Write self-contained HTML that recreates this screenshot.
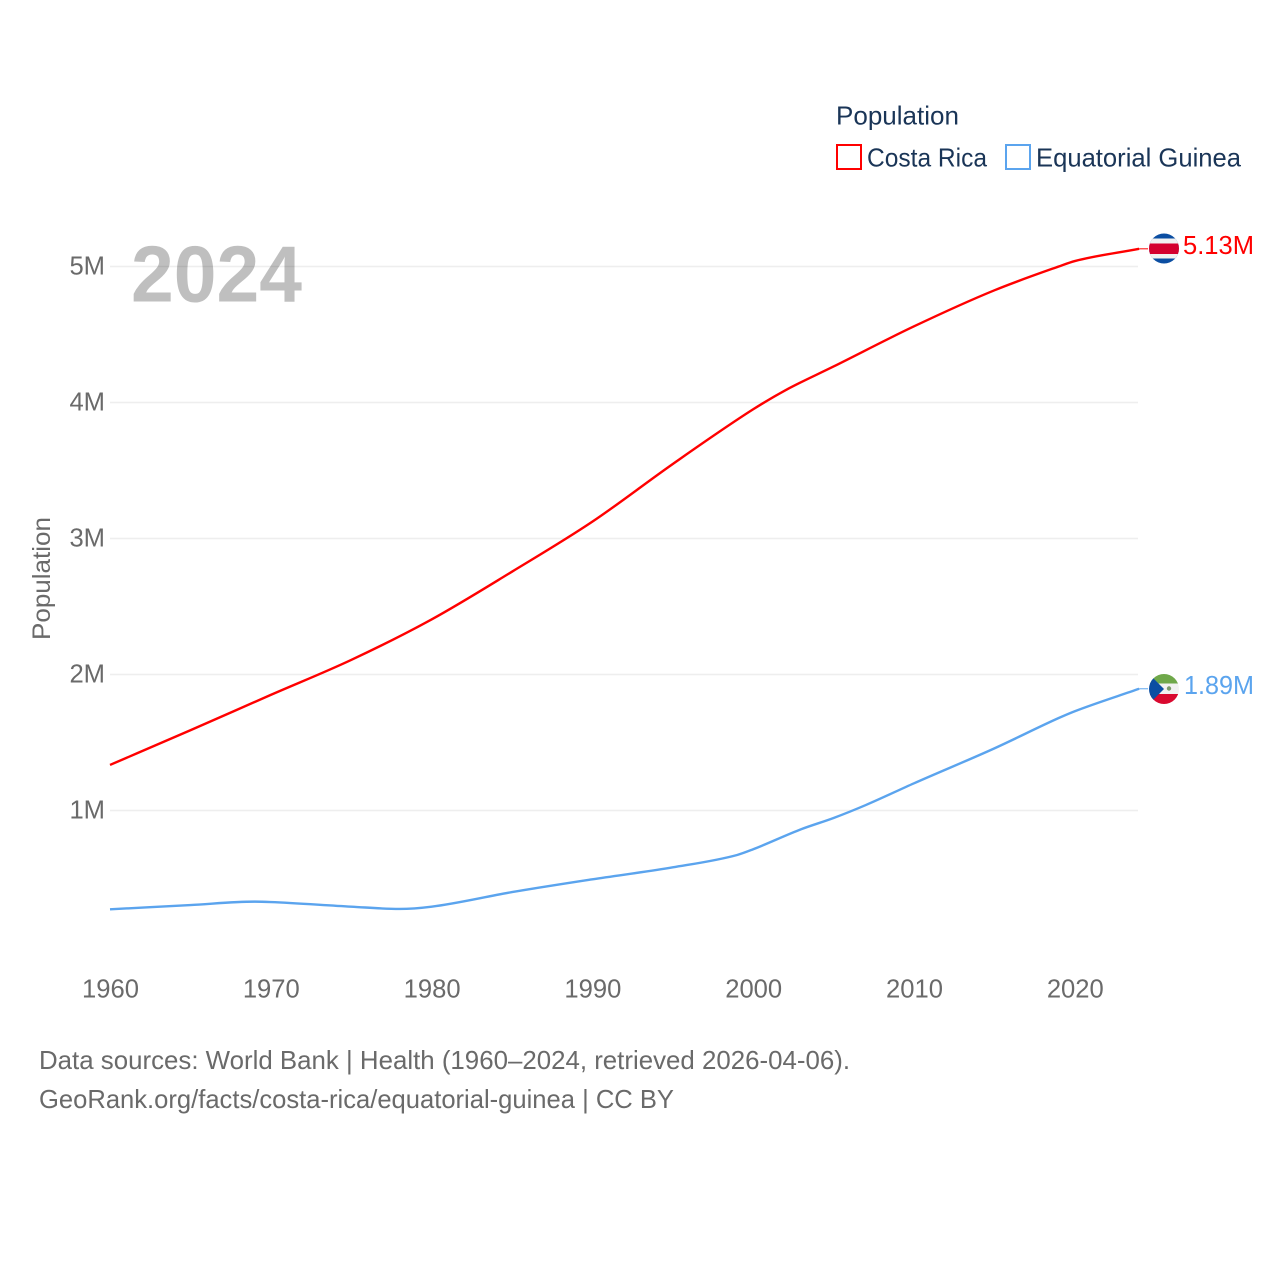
<!DOCTYPE html>
<html lang="en">
<head>
<meta charset="utf-8">
<title>Population: Costa Rica and Equatorial Guinea</title>
<style>
html,body{margin:0;padding:0;background:#fff;}
svg{display:block;font-family:"Liberation Sans",sans-serif;}
</style>
</head>
<body>
<svg id="chart" xmlns="http://www.w3.org/2000/svg" width="1280" height="1280" viewBox="0 0 1280 1280">
  <defs>
    <clipPath id="flag-clip-cr"><circle cx="1164" cy="248.5" r="15"/></clipPath>
    <clipPath id="flag-clip-gq"><circle cx="1164" cy="689" r="15"/></clipPath>
  </defs>
  <rect width="1280" height="1280" fill="#fff"/>
  <g id="grid"></g>
  <g id="yticks"></g>
  <g id="xticks"></g>
  <text transform="translate(50,640) rotate(-90)" font-size="25" fill="#6a6a6a" textLength="123" lengthAdjust="spacingAndGlyphs">Population</text>

  <g id="series"></g>

  <text x="131" y="301.5" font-size="80" font-weight="700" fill="#000" fill-opacity="0.25" textLength="171" lengthAdjust="spacingAndGlyphs">2024</text>

  <g>
    <text x="836" y="124.5" font-size="26" fill="#1a3557" textLength="123" lengthAdjust="spacingAndGlyphs">Population</text>
    <g>
      <rect x="837" y="145" width="24" height="24" fill="#fff" stroke="#ff0000" stroke-width="2"/>
      <text x="867" y="166.5" font-size="26" fill="#1a3557" textLength="120" lengthAdjust="spacingAndGlyphs">Costa Rica</text>
    </g>
    <g>
      <rect x="1006" y="145" width="24" height="24" fill="#fff" stroke="#5ba4ee" stroke-width="2"/>
      <text x="1036" y="166.5" font-size="26" fill="#1a3557" textLength="205" lengthAdjust="spacingAndGlyphs">Equatorial Guinea</text>
    </g>
  </g>

  <g clip-path="url(#flag-clip-cr)">
    <rect x="1148" y="233" width="32" height="31" fill="#0b4ea2"/>
    <rect x="1148" y="238.5" width="32" height="20" fill="#f1f1f1"/>
    <rect x="1148" y="243.5" width="32" height="10.5" fill="#d4002f"/>
  </g>
  <g clip-path="url(#flag-clip-gq)">
    <rect x="1148" y="673" width="32" height="11" fill="#6fa84a"/>
    <rect x="1148" y="683.5" width="32" height="11" fill="#f1f1f1"/>
    <rect x="1148" y="694" width="32" height="11" fill="#d9092f"/>
    <polygon points="1148,673 1164,689 1148,705" fill="#0b4ea2"/>
    <circle cx="1169" cy="688.5" r="2.2" fill="#7a9a6a"/>
  </g>

  <text id="value-cr" x="1183" y="254" font-size="25.6" fill="#ff0000" textLength="71" lengthAdjust="spacingAndGlyphs"></text>
  <text id="value-gq" x="1184" y="694" font-size="25.6" fill="#5ba4ee" textLength="70" lengthAdjust="spacingAndGlyphs"></text>

  <g>
    <text x="39" y="1069" font-size="26" fill="#6a6a6a" textLength="811" lengthAdjust="spacingAndGlyphs">Data sources: World Bank | Health (1960–2024, retrieved 2026-04-06).</text>
    <text x="39" y="1108" font-size="26" fill="#6a6a6a" textLength="635" lengthAdjust="spacingAndGlyphs">GeoRank.org/facts/costa-rica/equatorial-guinea | CC BY</text>
  </g>
</svg>
<script>
var xTickYears = [1960, 1970, 1980, 1990, 2000, 2010, 2020];
var yTickValues = [1, 2, 3, 4, 5];
var yTickLabels = ['1M', '2M', '3M', '4M', '5M'];

var costaRicaYears = [1960, 1965, 1970, 1975, 1980, 1985, 1990, 1995, 2000, 2002, 2005, 2010, 2015, 2019, 2020, 2024];
var costaRicaValues = [1.335, 1.59, 1.85, 2.107, 2.405, 2.756, 3.124, 3.548, 3.95, 4.09, 4.265, 4.56, 4.825, 5.0, 5.04, 5.13];
var costaRicaLabel = '5.13M';

var guineaYears = [1960, 1965, 1969, 1970, 1975, 1978, 1980, 1985, 1990, 1995, 1999, 2000, 2003, 2005, 2007, 2010, 2015, 2019, 2020, 2024];
var guineaValues = [0.2735, 0.305, 0.33, 0.327, 0.293, 0.276, 0.293, 0.40, 0.494, 0.582, 0.673, 0.715, 0.863, 0.945, 1.04, 1.2, 1.457, 1.68, 1.73, 1.895];
var guineaLabel = '1.89M';

var NS = 'http://www.w3.org/2000/svg';
function xScale(year) { return 110 + (year - 1960) * 16.08; }
function yScale(v) { return 946.5 - v * 136; }

function linePath(years, values) {
  var xs = years.map(xScale), ys = values.map(yScale), n = xs.length;
  var slopes = [], tangents = [], i;
  for (i = 0; i < n - 1; i++) slopes.push((ys[i + 1] - ys[i]) / (xs[i + 1] - xs[i]));
  tangents.push(slopes[0]);
  for (i = 1; i < n - 1; i++) {
    tangents.push(slopes[i - 1] * slopes[i] <= 0 ? 0 : (slopes[i - 1] + slopes[i]) / 2);
  }
  tangents.push(slopes[n - 2]);
  var d = 'M' + xs[0].toFixed(2) + ',' + ys[0].toFixed(2);
  for (i = 0; i < n - 1; i++) {
    var h = (xs[i + 1] - xs[i]) / 3;
    d += 'C' + (xs[i] + h).toFixed(2) + ',' + (ys[i] + tangents[i] * h).toFixed(2) + ' ' +
         (xs[i + 1] - h).toFixed(2) + ',' + (ys[i + 1] - tangents[i + 1] * h).toFixed(2) + ' ' +
         xs[i + 1].toFixed(2) + ',' + ys[i + 1].toFixed(2);
  }
  return d;
}

var grid = document.getElementById('grid');
var yticks = document.getElementById('yticks');
var xticks = document.getElementById('xticks');
var series = document.getElementById('series');

yTickValues.forEach(function (v, i) {
  var g = document.createElementNS(NS, 'line');
  
  
  g.setAttribute('x1', 110);
  g.setAttribute('x2', 1138);
  g.setAttribute('y1', yScale(v));
  g.setAttribute('y2', yScale(v));
  g.setAttribute('stroke', '#eeeeee');
  g.setAttribute('stroke-width', '1.5');
  grid.appendChild(g);

  var t = document.createElementNS(NS, 'text');
  
  
  t.setAttribute('x', 105);
  t.setAttribute('y', yScale(v) + 8);
  t.setAttribute('text-anchor', 'end');
  t.setAttribute('font-size', '25.6');
  t.setAttribute('fill', '#6a6a6a');
  t.textContent = yTickLabels[i];
  yticks.appendChild(t);
});

xTickYears.forEach(function (year) {
  var t = document.createElementNS(NS, 'text');
  
  
  t.setAttribute('x', xScale(year) + 0.5);
  t.setAttribute('y', 997.5);
  t.setAttribute('text-anchor', 'middle');
  t.setAttribute('font-size', '25.6');
  t.setAttribute('fill', '#6a6a6a');
  t.textContent = String(year);
  xticks.appendChild(t);
});

function drawSeries(years, values, color, lineName, leaderName) {
  var p = document.createElementNS(NS, 'path');
  
  
  p.setAttribute('d', linePath(years, values));
  p.setAttribute('fill', 'none');
  p.setAttribute('stroke', color);
  p.setAttribute('stroke-width', '2.4');
  series.appendChild(p);

  var last = values[values.length - 1];
  var l = document.createElementNS(NS, 'line');
  
  
  l.setAttribute('x1', xScale(years[years.length - 1]));
  l.setAttribute('x2', 1148);
  l.setAttribute('y1', yScale(last));
  l.setAttribute('y2', yScale(last));
  l.setAttribute('stroke', color);
  l.setAttribute('stroke-width', '1');
  series.appendChild(l);
}

drawSeries(costaRicaYears, costaRicaValues, '#ff0000', 'line-costa-rica', 'leader-costa-rica');
drawSeries(guineaYears, guineaValues, '#5ba4ee', 'line-equatorial-guinea', 'leader-equatorial-guinea');

document.getElementById('value-cr').textContent = costaRicaLabel;
document.getElementById('value-gq').textContent = guineaLabel;
</script>
</body>
</html>
